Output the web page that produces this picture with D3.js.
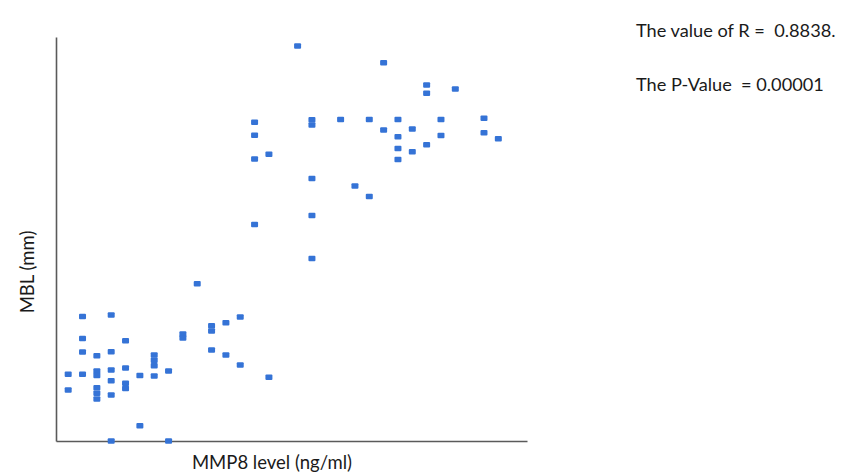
<!DOCTYPE html>
<html>
<head>
<meta charset="utf-8">
<script src="https://cdn.jsdelivr.net/npm/d3@7"></script>
<style>
  html, body { margin: 0; padding: 0; background: #fff; }
  svg { display: block; font-family: Lato, "Open Sans", sans-serif; }
</style>
</head>
<body>
<svg id="chart" width="843" height="475"></svg>
<script>
// MMP8 level (ng/ml) and MBL (mm) for each sample
const mmp8 = [
  1, 1, 2, 2, 2, 2, 3, 3, 3, 3, 3, 3, 4, 4, 4, 4, 4, 4, 5, 5, 5, 5,
  6, 6, 7, 7, 7, 7, 8, 8, 9, 9, 10, 11, 11, 11, 12, 12, 13, 13, 15,
  14, 14, 14, 14, 15, 17, 18, 18, 18, 18, 18, 20, 21, 22, 22, 23, 23,
  24, 24, 24, 24, 25, 25, 26, 26, 26, 27, 27, 28, 30, 30, 31
];
const mbl = [
  1.65, 1.26, 3.08, 2.54, 2.20, 1.65, 2.11, 1.73, 1.62, 1.32, 1.18, 1.04,
  3.12, 2.21, 1.76, 1.49, 1.14, 0.00, 2.48, 1.81, 1.43, 1.30,
  1.62, 0.38, 2.13, 2.00, 1.86, 1.61, 1.73, 0.00, 2.65, 2.55, 3.89,
  2.85, 2.72, 2.25, 2.93, 2.13, 3.07, 1.88, 1.58,
  7.89, 7.57, 6.98, 5.36, 7.10, 9.78, 7.95, 7.82, 6.50, 5.58, 4.52,
  7.96, 6.31, 7.96, 6.05, 9.36, 7.70, 7.96, 7.53, 7.24, 6.97,
  7.72, 7.16, 8.81, 8.61, 7.33, 7.96, 7.56, 8.71, 7.99, 7.63, 7.48
];
const statLines = ["The value of R =\u00a0 0.8838.", "The P-Value\u00a0 = 0.00001"];
const xTitle = "MMP8 level (ng/ml)";
const yTitle = "MBL (mm)";

const points = mmp8.map((v, i) => ({ x: v, y: mbl[i] }));

const svg = d3.select("#chart");
const plot = { left: 56, right: 527, top: 37, bottom: 441 };

const x = d3.scaleLinear().domain([0.15, 33]).range([plot.left, plot.right]);
const y = d3.scaleLinear().domain([0, 10]).range([plot.bottom, plot.top]);

// Axes without ticks or labels
const xAxis = svg.append("g")
  .attr("transform", `translate(0,${plot.bottom})`)
  .call(d3.axisBottom(x).tickValues([]).tickSizeOuter(0));
const yAxis = svg.append("g")
  .attr("transform", `translate(${plot.left},0)`)
  .call(d3.axisLeft(y).tickValues([]).tickSizeOuter(0));
[xAxis, yAxis].forEach(a => a.select(".domain")
  .attr("stroke", "#5a5a5a").attr("stroke-width", 1.6));

// Sample markers
const w = 7, h = 5.5;
svg.append("g")
  .selectAll("rect")
  .data(points)
  .join("rect")
  .attr("x", d => x(d.x) - w / 2)
  .attr("y", d => y(d.y) - h / 2)
  .attr("width", w)
  .attr("height", h)
  .attr("rx", 1)
  .attr("fill", "#3573d6");

// Axis titles
svg.append("text")
  .attr("x", 272).attr("y", 469)
  .attr("text-anchor", "middle")
  .attr("font-size", 18.5).attr("fill", "#1a1a1a")
  .text(xTitle);
svg.append("text")
  .attr("transform", "translate(34,272) rotate(-90)")
  .attr("text-anchor", "middle")
  .attr("font-size", 18.5).attr("fill", "#1a1a1a")
  .text(yTitle);

// Correlation statistics
svg.append("g")
  .selectAll("text")
  .data(statLines)
  .join("text")
  .attr("x", 636)
  .attr("y", (d, i) => 37 + i * 54)
  .attr("font-size", 18.2).attr("fill", "#1a1a1a")
  .text(d => d);
</script>
</body>
</html>
